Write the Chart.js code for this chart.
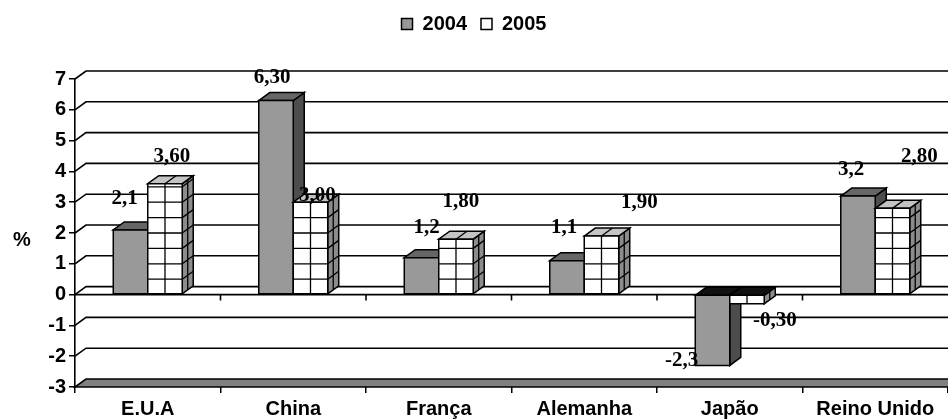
<!DOCTYPE html>
<html><head><meta charset="utf-8">
<script src="https://cdn.jsdelivr.net/npm/chart.js@4"></script>
<style>html,body{margin:0;padding:0;background:#fff;overflow:hidden}</style>
</head><body>
<canvas id="c" width="948" height="419"></canvas>
<script>
const categories = ['E.U.A', 'China', 'França', 'Alemanha', 'Japão', 'Reino Unido'];
const values2004 = [2.1, 6.3, 1.2, 1.1, -2.3, 3.2];
const values2005 = [3.6, 3.0, 1.8, 1.9, -0.3, 2.8];
const labels2004 = ['2,1', '6,30', '1,2', '1,1', '-2,3', '3,2'];
const labels2005 = ['3,60', '3,00', '1,80', '1,90', '-0,30', '2,80'];
const yTicks = [-3, -2, -1, 0, 1, 2, 3, 4, 5, 6, 7];
const seriesNames = ['2004', '2005'];

const DX = 11, DY = -8;
const SANS = "'Liberation Sans', Arial, sans-serif";
const SERIF = "'Liberation Serif', 'Times New Roman', serif";

function poly(ctx, pts, fill) {
  ctx.beginPath();
  ctx.moveTo(pts[0][0], pts[0][1]);
  for (let k = 1; k < pts.length; k++) ctx.lineTo(pts[k][0], pts[k][1]);
  ctx.closePath();
  ctx.fillStyle = fill; ctx.fill(); ctx.stroke();
}

const bar3d = {
  id: 'bar3d',
  beforeDatasetsDraw(chart) {
    const {ctx, chartArea: a, scales: {x, y}} = chart;
    ctx.save();
    ctx.strokeStyle = '#000'; ctx.lineWidth = 1.6; ctx.lineJoin = 'miter';
    const yf = y.getPixelForValue(yTicks[0]);
    poly(ctx, [[a.left, yf], [a.left + DX, yf + DY], [a.right + DX + 10, yf + DY], [a.right + 10, yf]], '#808080');
    for (const v of yTicks.slice(1)) {
      const py = y.getPixelForValue(v);
      ctx.beginPath();
      ctx.moveTo(a.left, py); ctx.lineTo(a.left + DX, py + DY); ctx.lineTo(a.right + DX + 10, py + DY);
      ctx.stroke();
    }
    const y0 = y.getPixelForValue(0);
    ctx.beginPath(); ctx.moveTo(a.left, y0); ctx.lineTo(a.right + 10, y0); ctx.stroke();
    ctx.beginPath();
    for (let i = 1; i < categories.length; i++) {
      const bx = (x.getPixelForValue(i - 1) + x.getPixelForValue(i)) / 2;
      ctx.moveTo(bx, y0); ctx.lineTo(bx, y0 + 6);
    }
    ctx.stroke();
    ctx.restore();
  },
  afterDatasetsDraw(chart, args, opts) {
    const {ctx, scales: {y}} = chart;
    const y0 = y.getPixelForValue(0);
    const half = Math.abs(y.getPixelForValue(0.5) - y0);
    const vals = [values2004, values2005];
    ctx.save();
    ctx.strokeStyle = '#000'; ctx.lineWidth = 1.5; ctx.lineJoin = 'miter';
    for (let i = 0; i < categories.length; i++) {
      for (let d = 0; d < 2; d++) {
        const el = chart.getDatasetMeta(d).data[i];
        const p = el.getProps(['x', 'y', 'base', 'width'], true);
        const x0 = p.x - p.width / 2, x1 = p.x + p.width / 2;
        const top = Math.min(p.y, p.base), bot = Math.max(p.y, p.base);
        const neg = vals[d][i] < 0;
        const sideCol = d === 0 ? '#4d4d4d' : '#8c8c8c';
        const topCol = neg ? '#111111' : (d === 0 ? '#666666' : '#c4c4c4');
        const frontCol = d === 0 ? '#999999' : '#ffffff';
        poly(ctx, [[x1, top], [x1 + DX, top + DY], [x1 + DX, bot + DY], [x1, bot]], sideCol);
        poly(ctx, [[x0, top], [x0 + DX, top + DY], [x1 + DX, top + DY], [x1, top]], topCol);
        poly(ctx, [[x0, top], [x1, top], [x1, bot], [x0, bot]], frontCol);
        if (d === 1) {
          ctx.save();
          ctx.lineWidth = 1.3;
          ctx.beginPath();
          const xm = (x0 + x1) / 2;
          ctx.moveTo(xm, top); ctx.lineTo(xm, bot);
          for (let k = 1; k < 40; k++) {
            const yy = neg ? y0 + k * half : y0 - k * half;
            if (yy <= top + 1 || yy >= bot - 1) continue;
            ctx.moveTo(x0, yy); ctx.lineTo(x1, yy);
            ctx.moveTo(x1, yy); ctx.lineTo(x1 + DX, yy + DY);
          }
          ctx.moveTo(x1 + DX / 2, top + DY / 2); ctx.lineTo(x1 + DX / 2, bot + DY / 2);
          if (!neg) { ctx.moveTo(xm, top); ctx.lineTo(xm + DX, top + DY); }
          ctx.stroke();
          ctx.restore();
        }
      }
    }
    ctx.fillStyle = '#000';
    ctx.font = 'bold 21px ' + SERIF;
    ctx.textAlign = 'center'; ctx.textBaseline = 'middle';
    const texts = [labels2004, labels2005];
    for (let d = 0; d < 2; d++) {
      const meta = chart.getDatasetMeta(d);
      for (let i = 0; i < categories.length; i++) {
        const el = meta.data[i];
        const s = opts.shift[d][i];
        ctx.fillText(texts[d][i], el.x + s[0], el.y + s[1]);
      }
    }
    ctx.font = 'bold 20px ' + SANS;
    ctx.fillText('%', 22, (y.getPixelForValue(2) + y.getPixelForValue(1.5)) / 2);
    ctx.restore();
  }
};

new Chart(document.getElementById('c'), {
  type: 'bar',
  data: {
    labels: categories,
    datasets: [
      {label: seriesNames[0], data: values2004, backgroundColor: '#999999', borderColor: '#000', borderWidth: 1.5},
      {label: seriesNames[1], data: values2005, backgroundColor: '#ffffff', borderColor: '#000', borderWidth: 1.5}
    ]
  },
  options: {
    responsive: false,
    devicePixelRatio: 1,
    animation: false,
    events: [],
    categoryPercentage: 0.474,
    barPercentage: 1,
    layout: {padding: {left: 0, right: 0, top: 0, bottom: 0}},
    scales: {
      x: {
        grid: {offset: true, drawOnChartArea: false, tickLength: 6, color: '#000', lineWidth: 1.5},
        border: {display: false},
        ticks: {font: {family: SANS, size: 20, weight: 'bold'}, color: '#000', padding: 4, maxRotation: 0, autoSkip: false},
        afterFit: s => { s.height = 32; }
      },
      y: {
        min: yTicks[0], max: yTicks[yTicks.length - 1],
        grid: {drawOnChartArea: false, tickLength: 6, color: '#000', lineWidth: 1.5},
        border: {display: true, color: '#000', width: 1.6},
        ticks: {stepSize: 1, font: {family: SANS, size: 20, weight: 'bold'}, color: '#000', padding: 3},
        afterFit: s => { s.width = 75; }
      }
    },
    plugins: {
      legend: {
        position: 'top',
        labels: {font: {family: SANS, size: 20, weight: 'bold'}, color: '#000', boxWidth: 11, boxHeight: 11, padding: 14}
      },
      subtitle: {display: true, text: '', position: 'top', weight: 500, font: {size: 1, lineHeight: 1}, padding: {top: 0, bottom: 34}},
      tooltip: {enabled: false},
      bar3d: {
        shift: [
          [[-6, -31], [-4, -23], [5, -30], [-3, -33], [-31, -5], [-7, -26]],
          [[7, -27], [7, -7], [5, -38], [38, -34], [28, 17], [27, -52]]
        ]
      }
    }
  },
  plugins: [bar3d]
});
</script>
</body></html>
